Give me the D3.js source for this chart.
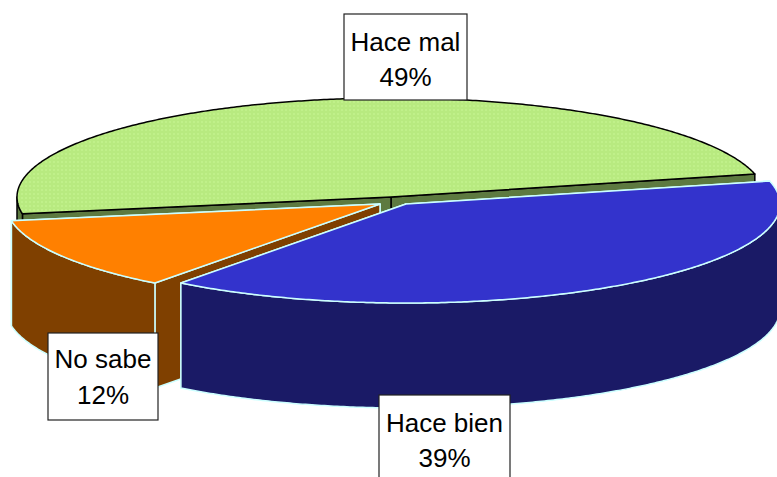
<!DOCTYPE html>
<html>
<head>
<meta charset="utf-8">
<script src="https://d3js.org/d3.v7.min.js"></script>
<style>
  html, body { margin: 0; padding: 0; background: #fff; overflow: hidden; }
  svg { display: block; }
  .label-text { font-family: "Liberation Sans", Arial, sans-serif; font-size: 26px; fill: #000; text-anchor: middle; }
  .label-box { fill: #fff; stroke: #222; stroke-width: 1.2; }
</style>
</head>
<body>
<svg id="chart" width="777" height="477"></svg>
<script>
// Values
const categories = ['Hace bien', 'No sabe', 'Hace mal'];
const values = [39, 12, 49];

// Look of each slice, same order as categories
const topColors = ['#3333cc', '#ff8000', 'url(#greenDots)'];
const sideColors = ['#1a1a66', '#7f4000', '#5d7a40'];
const edgeColors = ['#ccffff', '#ccffff', '#000000'];
const centers = [[406, 204], [380, 204], [391, 197]];
const labelBoxes = [[379, 395, 131, 90], [48, 333, 110, 87], [344, 14, 123, 86]];
const labelBaselines = [[432, 467], [368, 404], [51, 86]];

const radiusX = 374, radiusY = 99, depth = 105;
const degToRad = Math.PI / 180;
const firstAngle = 76.6 * degToRad;

const svg = d3.select('#chart');

// Dotted fill of the green slice
const pattern = svg.append('defs').append('pattern')
  .attr('id', 'greenDots')
  .attr('width', 4).attr('height', 4)
  .attr('patternUnits', 'userSpaceOnUse');
pattern.append('rect').attr('width', 4).attr('height', 4).attr('fill', '#b8ea80');
pattern.append('rect').attr('x', 1).attr('y', 1).attr('width', 2).attr('height', 2).attr('fill', '#c0f08a');

// Unit circle to flattened ellipse
const xScale = d3.scaleLinear().domain([-1, 1]).range([-radiusX, radiusX]);
const yScale = d3.scaleLinear().domain([-1, 1]).range([-radiusY, radiusY]);

const pie = d3.pie().sort(null)
  .startAngle(firstAngle)
  .endAngle(firstAngle + 2 * Math.PI);

const line = d3.line();

// pie angles start at 12 o'clock and run clockwise
const project = (angle, center, drop = 0) => [
  center[0] + xScale(Math.sin(angle)),
  center[1] + yScale(-Math.cos(angle)) + drop
];

const arcPoints = (a0, a1, center, drop = 0) => {
  const steps = Math.max(2, Math.ceil((a1 - a0) / (0.5 * degToRad)));
  return d3.range(steps + 1).map(i => project(a0 + (a1 - a0) * i / steps, center, drop));
};

const slices = pie(values);
const drawOrder = [2, 1, 0];

drawOrder.forEach(i => {
  const d = slices[i];
  const center = centers[i];
  const g = svg.append('g').attr('class', 'slice');
  const style = sel => sel
    .attr('fill', sideColors[i])
    .attr('stroke', edgeColors[i])
    .attr('stroke-width', 1.5)
    .attr('stroke-linejoin', 'round');

  // Radial faces, far one first so the near one covers it, then the outer wall
  [d.endAngle, d.startAngle].forEach(angle => {
    const p = project(angle, center);
    const bottom = project(angle, center, depth);
    g.append('path')
      .attr('d', line([center, p, bottom, [center[0], center[1] + depth]]) + 'Z')
      .call(style);
  });

  // Front half of the ellipse runs from 90 to 270 degrees in pie angles
  const turn = 2 * Math.PI;
  [0, turn].forEach(shift => {
    const a0 = Math.max(d.startAngle, Math.PI / 2 + shift);
    const a1 = Math.min(d.endAngle, 3 * Math.PI / 2 + shift);
    if (a1 > a0) {
      const pts = arcPoints(a0, a1, center).concat(arcPoints(a0, a1, center, depth).reverse());
      g.append('path').attr('d', line(pts) + 'Z').call(style);
    }
  });

  // Top face
  const topPts = [center].concat(arcPoints(d.startAngle, d.endAngle, center));
  g.append('path')
    .attr('d', line(topPts) + 'Z')
    .attr('fill', topColors[i])
    .attr('stroke', edgeColors[i])
    .attr('stroke-width', 1.5)
    .attr('stroke-linejoin', 'round');
});

// Labels
categories.forEach((name, i) => {
  const box = labelBoxes[i];
  const midX = box[0] + box[2] / 2;
  const g = svg.append('g').attr('class', 'label');
  g.append('rect').attr('class', 'label-box')
    .attr('x', box[0]).attr('y', box[1])
    .attr('width', box[2]).attr('height', box[3]);
  g.append('text').attr('class', 'label-text')
    .attr('x', midX).attr('y', labelBaselines[i][0]).text(name);
  g.append('text').attr('class', 'label-text')
    .attr('x', midX).attr('y', labelBaselines[i][1]).text(values[i] + '%');
});
</script>
</body>
</html>
